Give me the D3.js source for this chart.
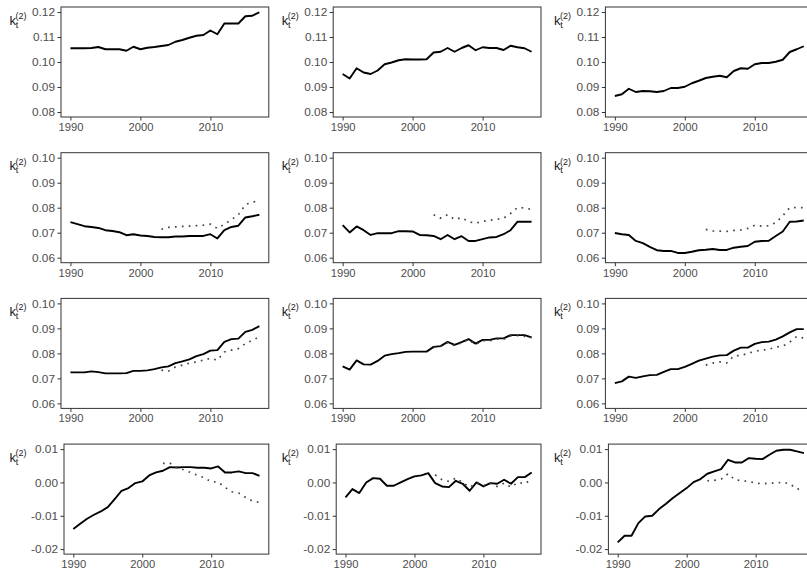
<!DOCTYPE html>
<html>
<head>
<meta charset="utf-8">
<script src="https://cdn.jsdelivr.net/npm/d3@7"></script>
<style>
  body { margin: 0; background: #fff; }
  svg { display: block; }
  text { font-family: "Liberation Sans", Arial, sans-serif; }
</style>
</head>
<body>
<svg id="chart" width="807" height="576"></svg>
<script>
// ---- data ---------------------------------------------------------------
const years = [1990, 1991, 1992, 1993, 1994, 1995, 1996, 1997, 1998, 1999,
               2000, 2001, 2002, 2003, 2004, 2005, 2006, 2007, 2008, 2009,
               2010, 2011, 2012, 2013, 2014, 2015, 2016, 2017];
const yearsDotted = [2003, 2004, 2005, 2006, 2007, 2008, 2009, 2010,
                     2011, 2012, 2013, 2014, 2015, 2016, 2017];

const xTicks = [1990, 2000, 2010];
const xTickLabels = ["1990", "2000", "2010"];

const yTicksTop = [0.08, 0.09, 0.10, 0.11, 0.12];
const yTickLabelsTop = ["0.08", "0.09", "0.10", "0.11", "0.12"];
const yTicksMid = [0.06, 0.07, 0.08, 0.09, 0.10];
const yTickLabelsMid = ["0.06", "0.07", "0.08", "0.09", "0.10"];
const yTicksLow = [-0.02, -0.01, 0.00, 0.01];
const yTickLabelsLow = ["-0.02", "-0.01", "0.00", "0.01"];

const yLimitsTop = [0.08, 0.12];
const yLimitsMid = [0.06, 0.10];
const yLimitsLow = [-0.02, 0.01];

// row 1
const p1Solid = [0.1055, 0.1055, 0.1055, 0.1056, 0.1060, 0.1051, 0.1051, 0.1051, 0.1045, 0.1061,
                 0.1051, 0.1057, 0.1060, 0.1064, 0.1068, 0.1081, 0.1088, 0.1097, 0.1105, 0.1108,
                 0.1126, 0.1111, 0.1154, 0.1154, 0.1154, 0.1183, 0.1185, 0.1199];
const p2Solid = [0.0952, 0.0934, 0.0975, 0.0958, 0.0952, 0.0966, 0.0991, 0.0998, 0.1007, 0.1011,
                 0.1010, 0.1010, 0.1011, 0.1038, 0.1041, 0.1056, 0.1041, 0.1056, 0.1067, 0.1047,
                 0.1059, 0.1056, 0.1056, 0.1048, 0.1065, 0.1059, 0.1055, 0.1041];
const p3Solid = [0.0864, 0.0871, 0.0893, 0.0880, 0.0884, 0.0883, 0.0880, 0.0884, 0.0896, 0.0896,
                 0.0901, 0.0915, 0.0925, 0.0936, 0.0941, 0.0945, 0.0939, 0.0964, 0.0975, 0.0973,
                 0.0991, 0.0996, 0.0996, 0.1001, 0.1009, 0.1040, 0.1051, 0.1063];

// row 2
const p4Solid = [0.0742, 0.0734, 0.0726, 0.0723, 0.0719, 0.0710, 0.0707, 0.0702, 0.0690, 0.0694,
                 0.0689, 0.0687, 0.0683, 0.0682, 0.0682, 0.0685, 0.0685, 0.0687, 0.0687, 0.0687,
                 0.0694, 0.0677, 0.0710, 0.0723, 0.0728, 0.0761, 0.0766, 0.0772];
const p4Dotted = [0.0714, 0.0721, 0.0723, 0.0725, 0.0726, 0.0728, 0.0730, 0.0734,
                  0.0717, 0.0734, 0.0752, 0.0772, 0.0812, 0.0823, 0.0826];
const p5Solid = [0.0730, 0.0701, 0.0725, 0.0710, 0.0691, 0.0698, 0.0698, 0.0698, 0.0706, 0.0706,
                 0.0705, 0.0691, 0.0690, 0.0687, 0.0674, 0.0691, 0.0674, 0.0686, 0.0667, 0.0667,
                 0.0674, 0.0681, 0.0683, 0.0694, 0.0710, 0.0744, 0.0744, 0.0744];
const p5Dotted = [0.0772, 0.0758, 0.0772, 0.0753, 0.0760, 0.0744, 0.0738, 0.0745,
                  0.0750, 0.0753, 0.0758, 0.0777, 0.0801, 0.0799, 0.0793];
const p6Solid = [0.0699, 0.0694, 0.0691, 0.0667, 0.0658, 0.0643, 0.0630, 0.0627, 0.0627, 0.0619,
                 0.0619, 0.0624, 0.0630, 0.0632, 0.0635, 0.0631, 0.0631, 0.0640, 0.0644, 0.0647,
                 0.0664, 0.0667, 0.0668, 0.0687, 0.0705, 0.0744, 0.0745, 0.0749];
const p6Dotted = [0.0713, 0.0707, 0.0706, 0.0705, 0.0709, 0.0711, 0.0717, 0.0730,
                  0.0726, 0.0728, 0.0740, 0.0768, 0.0800, 0.0801, 0.0800];

// row 3
const p7Solid = [0.0724, 0.0724, 0.0724, 0.0728, 0.0725, 0.0720, 0.0720, 0.0720, 0.0721, 0.0730,
                 0.0730, 0.0732, 0.0737, 0.0744, 0.0748, 0.0761, 0.0768, 0.0776, 0.0789, 0.0797,
                 0.0811, 0.0813, 0.0846, 0.0857, 0.0859, 0.0886, 0.0894, 0.0909];
const p7Dotted = [0.0733, 0.0729, 0.0746, 0.0753, 0.0761, 0.0766, 0.0773, 0.0780,
                  0.0773, 0.0806, 0.0813, 0.0819, 0.0839, 0.0853, 0.0866];
const p8Solid = [0.0748, 0.0735, 0.0772, 0.0756, 0.0755, 0.0770, 0.0791, 0.0797, 0.0801, 0.0806,
                 0.0807, 0.0807, 0.0807, 0.0826, 0.0829, 0.0846, 0.0834, 0.0845, 0.0857, 0.0839,
                 0.0854, 0.0854, 0.0860, 0.0860, 0.0873, 0.0873, 0.0873, 0.0864];
const p8Dotted = [0.0824, 0.0828, 0.0843, 0.0831, 0.0842, 0.0855, 0.0835, 0.0851,
                  0.0850, 0.0857, 0.0856, 0.0870, 0.0871, 0.0868, 0.0863];
const p9Solid = [0.0681, 0.0688, 0.0707, 0.0702, 0.0708, 0.0713, 0.0714, 0.0726, 0.0737, 0.0737,
                 0.0746, 0.0758, 0.0771, 0.0779, 0.0787, 0.0792, 0.0793, 0.0811, 0.0823, 0.0823,
                 0.0838, 0.0845, 0.0847, 0.0855, 0.0868, 0.0884, 0.0897, 0.0897];
const p9Dotted = [0.0753, 0.0761, 0.0766, 0.0762, 0.0790, 0.0792, 0.0800, 0.0808,
                  0.0813, 0.0816, 0.0825, 0.0829, 0.0845, 0.0868, 0.0861];

// row 4
const p10Solid = [-0.0140, -0.0124, -0.0109, -0.0097, -0.0087, -0.0074, -0.0050, -0.0025, -0.0017, -0.0002,
                  0.0003, 0.0021, 0.0030, 0.0035, 0.0046, 0.0045, 0.0046, 0.0046, 0.0044, 0.0044,
                  0.0042, 0.0048, 0.0030, 0.0030, 0.0033, 0.0028, 0.0028, 0.0020];
const p10Dotted = [0.0057, 0.0058, 0.0045, 0.0038, 0.0030, 0.0021, 0.0014, 0.0002,
                   0.0001, -0.0015, -0.0028, -0.0032, -0.0045, -0.0056, -0.0060];
const p11Solid = [-0.0045, -0.0020, -0.0032, 0.0000, 0.0013, 0.0011, -0.0010, -0.0010, 0.0000, 0.0010,
                  0.0018, 0.0021, 0.0028, -0.0002, -0.0012, -0.0014, 0.0005, -0.0004, -0.0025, 0.0000,
                  -0.0012, -0.0002, -0.0004, 0.0008, -0.0004, 0.0016, 0.0016, 0.0030];
const p11Dotted = [0.0023, 0.0008, 0.0003, 0.0013, 0.0000, -0.0014, -0.0002, -0.0010,
                   -0.0002, -0.0012, -0.0002, -0.0014, 0.0000, -0.0004, 0.0010];
const p12Solid = [-0.0180, -0.0160, -0.0160, -0.0122, -0.0102, -0.0100, -0.0080, -0.0064, -0.0047, -0.0032,
                  -0.0017, 0.0001, 0.0010, 0.0026, 0.0033, 0.0040, 0.0068, 0.0060, 0.0060, 0.0073,
                  0.0071, 0.0070, 0.0083, 0.0095, 0.0098, 0.0098, 0.0093, 0.0088];
const p12Dotted = [0.0005, 0.0006, 0.0010, 0.0026, 0.0008, 0.0005, 0.0003, -0.0002,
                   -0.0004, -0.0002, -0.0002, 0.0001, -0.0005, -0.0020, -0.0017];

// ---- panel table ----------------------------------------------------------
const rowScales = [
  { limits: yLimitsTop, ticks: yTicksTop, labels: yTickLabelsTop },
  { limits: yLimitsMid, ticks: yTicksMid, labels: yTickLabelsMid },
  { limits: yLimitsMid, ticks: yTicksMid, labels: yTickLabelsMid },
  { limits: yLimitsLow, ticks: yTicksLow, labels: yTickLabelsLow }
];
const panelSeries = [
  [p1Solid, null], [p2Solid, null], [p3Solid, null],
  [p4Solid, p4Dotted], [p5Solid, p5Dotted], [p6Solid, p6Dotted],
  [p7Solid, p7Dotted], [p8Solid, p8Dotted], [p9Solid, p9Dotted],
  [p10Solid, p10Dotted], [p11Solid, p11Dotted], [p12Solid, p12Dotted]
];

// ---- layout ---------------------------------------------------------------
const cellW = 272.2, rowStep = 145.7;
const panelTop0 = 7, panelH = 110;
const panelRightOff = 268.8;
const tickLen = 3.5;

const svg = d3.select("#chart");

// ggplot-style 5% padding on continuous scales
function expand([a, b]) { const d = (b - a) * 0.05; return [a - d, b + d]; }
const xExtent = expand(d3.extent(years));

panelSeries.forEach(([solid, dotted], i) => {
  const row = Math.floor(i / 3), col = i % 3;
  const rs = rowScales[row];
  const cellX = col * cellW;
  const left = cellX + (row === 3 ? 64 : 61);
  const right = cellX + panelRightOff;
  const top = panelTop0 + row * rowStep;
  const bottom = top + panelH;

  const x = d3.scaleLinear().domain(xExtent).range([left, right]);
  const y = d3.scaleLinear().domain(expand(rs.limits)).range([bottom, top]);

  const g = svg.append("g");

  // axes
  const xAxis = d3.axisBottom(x).tickValues(xTicks)
    .tickFormat((d, k) => xTickLabels[k]).tickSizeInner(tickLen).tickSizeOuter(0).tickPadding(2.5);
  const yAxis = d3.axisLeft(y).tickValues(rs.ticks)
    .tickFormat((d, k) => rs.labels[k]).tickSizeInner(tickLen).tickSizeOuter(0).tickPadding(2.5);

  const gx = g.append("g").attr("transform", `translate(0,${bottom})`).call(xAxis);
  const gy = g.append("g").attr("transform", `translate(${left},0)`).call(yAxis);
  [gx, gy].forEach(a => {
    a.select(".domain").remove();
    a.selectAll(".tick line").attr("stroke", "#333").attr("stroke-width", 1);
    a.selectAll(".tick text").attr("fill", "#4d4d4d")
      .attr("font-family", "'Liberation Sans', Arial, sans-serif");
  });
  gx.selectAll(".tick text").attr("font-size", 11.2);
  gy.selectAll(".tick text").attr("font-size", 11.8);

  // clip region for the series
  const clipId = `clip${i}`;
  g.append("clipPath").attr("id", clipId)
    .append("rect").attr("x", left).attr("y", top).attr("width", right - left).attr("height", panelH);

  const line = d3.line().x(d => x(d[0])).y(d => y(d[1]));

  g.append("path")
    .datum(years.map((yr, k) => [yr, solid[k]]))
    .attr("clip-path", `url(#${clipId})`)
    .attr("fill", "none").attr("stroke", "#000").attr("stroke-width", 1.9)
    .attr("stroke-linejoin", "round")
    .attr("d", line);

  if (dotted) {
    g.append("path")
      .datum(yearsDotted.map((yr, k) => [yr, dotted[k]]))
      .attr("clip-path", `url(#${clipId})`)
      .attr("fill", "none").attr("stroke", "#444").attr("stroke-width", 1.7)
      .attr("stroke-dasharray", "1.7 5.2")
      .attr("d", line);
  }

  // panel border
  g.append("rect")
    .attr("x", left).attr("y", top).attr("width", right - left).attr("height", panelH)
    .attr("fill", "none").attr("stroke", "#333").attr("stroke-width", 1);

  // axis title k_t^(2)
  const tx = cellX + 9.5, ty = top + 17.5;
  const title = g.append("g").attr("fill", "#1a1a1a");
  title.append("text").attr("x", tx).attr("y", ty).attr("font-size", 13).text("k");
  title.append("text").attr("x", tx + 6.3).attr("y", ty + 3.2).attr("font-size", 9).text("t");
  title.append("text").attr("x", tx + 6).attr("y", ty - 5.5).attr("font-size", 9).text("(2)");
});
</script>
</body>
</html>
